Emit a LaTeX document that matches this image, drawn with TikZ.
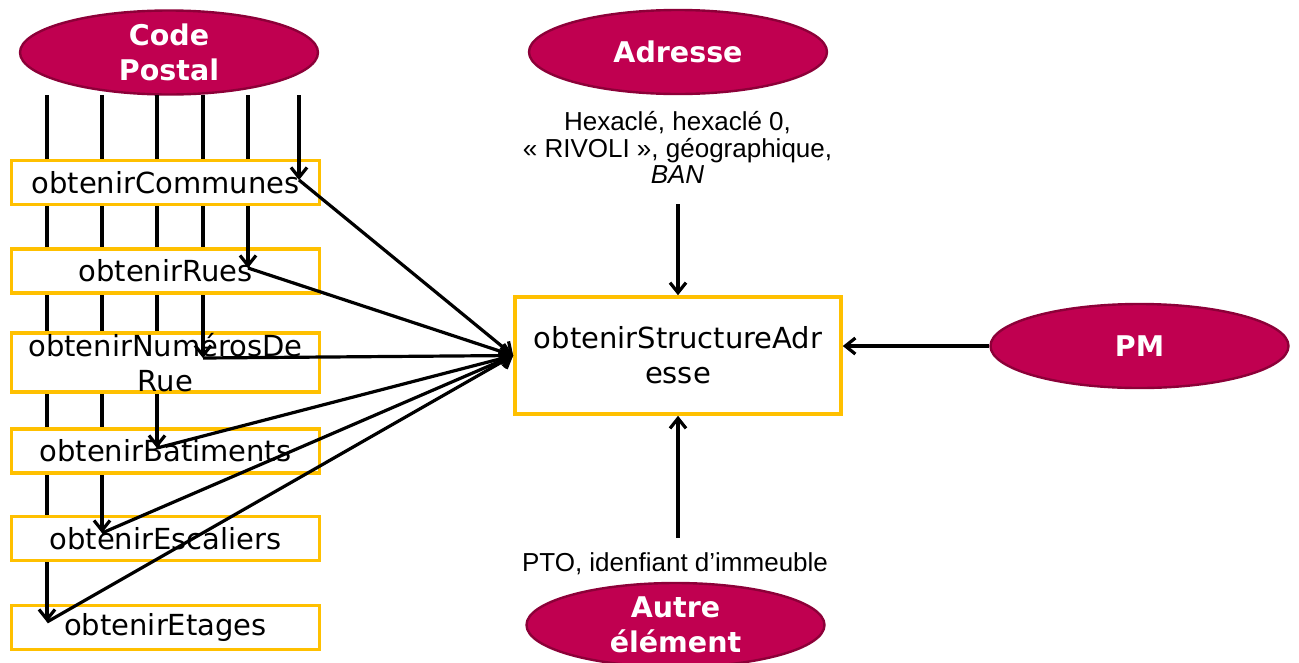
\documentclass[tikz,border=0pt]{standalone}
\usepackage{fontspec}
\setmainfont{DejaVu Sans}
\newfontfamily\arialf{Liberation Sans}
\usetikzlibrary{shapes.geometric,arrows.meta}
\definecolor{magb}{RGB}{192,0,80}
\definecolor{magd}{RGB}{140,0,56}
\definecolor{gold}{RGB}{255,192,0}
\begin{document}
\begin{tikzpicture}[x=1pt,y=-1pt,
  sbox/.style={draw=gold,line width=3.6pt,fill=white,minimum width=308pt,minimum height=44pt,inner sep=0pt,align=center,font=\fontsize{29}{35}\selectfont},
  bigbox/.style={sbox,minimum width=326pt,minimum height=117pt},
  oval/.style={ellipse,draw=magd,line width=2.4pt,fill=magb,text=white,minimum width=298pt,minimum height=84pt,inner sep=0pt,align=center,font=\fontsize{28.5}{35}\selectfont\bfseries},
  lbl/.style={align=center,inner sep=0pt,font=\arialf\fontsize{26}{26.5}\selectfont},
  conn/.style={line width=3.2pt},
  arr/.style={line width=3.2pt,-{Straight Barb[length=10pt,width=16pt]}}]
\useasboundingbox (0,0) rectangle (1299,662);

% ellipses
\node[oval] (cp) at (169,52.5) {Code\\Postal};
\node[oval] (adr) at (678,52) {Adresse};
\node[oval] (pm) at (1139.5,346) {PM};
\node[oval] (autre) at (675.5,625) {Autre\\élément};

% labels
\node[lbl] (adrtxt) at (677.5,147.5) {Hexaclé, hexaclé 0,\\« RIVOLI~», géographique,\\\textit{BAN}};
\node[lbl,anchor=base] (ptotxt) at (675,571) {PTO, idenfiant d’immeuble};

% coordinates for the vertical connectors
\coordinate (s1) at (299,95);  \coordinate (e1) at (299,180);
\coordinate (s2) at (248,95);  \coordinate (e2) at (248,268);
\coordinate (s3) at (203,95);  \coordinate (e3) at (203,358);
\coordinate (s4) at (157,95);  \coordinate (e4) at (157,448);
\coordinate (s5) at (102,95);  \coordinate (e5) at (102,533);
\coordinate (s6) at (47,95);   \coordinate (e6) at (47,622);
\coordinate (a0) at (678,204);
\coordinate (p0) at (678,538);

% vertical lines behind boxes
\foreach \i in {1,...,6} \draw[conn] (s\i) -- (e\i);

% boxes
\node[sbox] (b1) at (165.5,182.5) {obtenirCommunes};
\node[sbox] (b2) at (165.5,271) {obtenirRues};
\node[sbox] (b3) at (165.5,362.5) {obtenirNumérosDe\\Rue};
\node[sbox] (b4) at (165.5,451) {obtenirBatiments};
\node[sbox] (b5) at (165.5,538.5) {obtenirEscaliers};
\node[sbox] (b6) at (165.5,627.5) {obtenirEtages};
\node[bigbox] (main) at (678,355.5) {obtenirStructureAdr\\esse};

% arrow ends inside the boxes
\foreach \i in {1,...,6} \draw[arr] (e\i |- b\i.north) -- (e\i);

% diagonals to the main box
\foreach \i in {1,...,6} \draw[arr] (e\i) -- (main.west);

% other arrows
\draw[arr] (a0) -- (main.north);
\draw[arr] (p0) -- (main.south);
\draw[arr] (pm.west) -- (pm.west -| main.east);
\end{tikzpicture}
\end{document}
